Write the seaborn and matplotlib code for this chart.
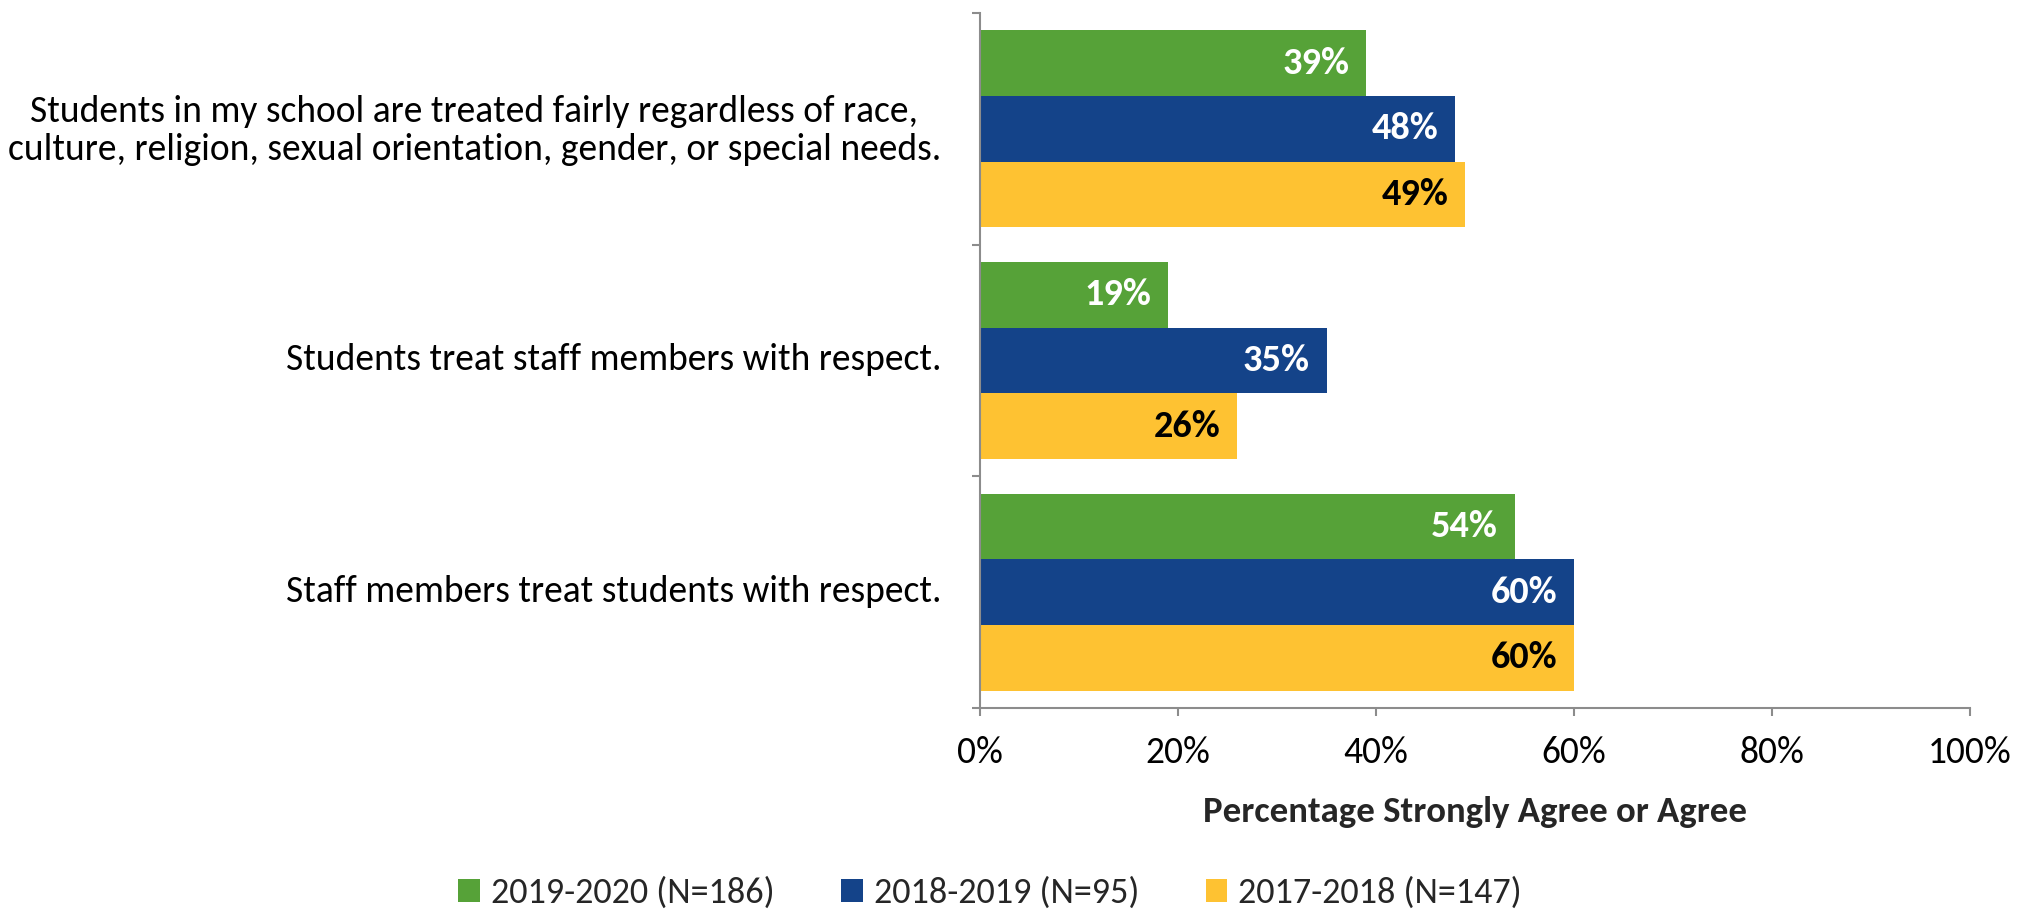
import matplotlib
matplotlib.use("Agg")
import matplotlib.pyplot as plt
import matplotlib.transforms as mtransforms
import seaborn as sns
import pandas as pd
import numpy as np
from matplotlib.ticker import FixedLocator, PercentFormatter

questions = [
    "Students in my school are treated fairly regardless of race,\nculture, religion, sexual orientation, gender, or special needs.",
    "Students treat staff members with respect.",
    "Staff members treat students with respect.",
]
series = ["2019-2020 (N=186)", "2018-2019 (N=95)", "2017-2018 (N=147)"]
vals_2019_2020 = [39, 19, 54]
vals_2018_2019 = [48, 35, 60]
vals_2017_2018 = [49, 26, 60]
colors = ["#56A238", "#144389", "#FEC232"]
label_colors = ["white", "white", "black"]
x_ticks = [0, 20, 40, 60, 80, 100]

sns.set_theme(style="white")
plt.rcParams["font.family"] = ["Carlito", "Liberation Sans Narrow", "Open Sans", "DejaVu Sans"]

rows = []
for s, vals in zip(series, [vals_2019_2020, vals_2018_2019, vals_2017_2018]):
    for q, v in zip(questions, vals):
        rows.append({"Question": q, "Year": s, "Value": v})
df = pd.DataFrame(rows)

fig = plt.figure(figsize=(20.3, 9.11), dpi=100)
ax = fig.add_axes([980/2030, 1-708/911, 990/2030, 695/911])

sns.barplot(data=df, y="Question", x="Value", hue="Year", order=questions,
            hue_order=series, palette=colors, orient="h", width=0.85,
            saturation=1, ax=ax, legend=True, linewidth=0)

fs = 27
for cont, lc in zip(ax.containers, label_colors):
    ax.bar_label(cont, labels=[f"{int(v)}%" for v in cont.datavalues],
                 padding=-12, color=lc, fontsize=27.5, fontweight="bold",
                 label_type="edge")
    for t in ax.texts[-len(cont.datavalues):]:
        t.set_ha("right")

ax.set_xlim(0, 100)
ax.set_ylim(2.5, -0.5)
ax.xaxis.set_major_locator(FixedLocator(x_ticks))
ax.xaxis.set_major_formatter(PercentFormatter(decimals=0))
ax.yaxis.set_minor_locator(FixedLocator([-0.5, 0.5, 1.5, 2.5]))

for sp in ["top", "right"]:
    ax.spines[sp].set_visible(False)
for sp in ["left", "bottom"]:
    ax.spines[sp].set_color("#8C8C8C")
    ax.spines[sp].set_linewidth(1.5)

ax.tick_params(axis="x", which="major", direction="out", length=6, width=1.5,
               color="#8C8C8C", pad=14, labelsize=fs, labelcolor="black", bottom=True)
ax.tick_params(axis="y", which="major", length=0, pad=28, labelsize=fs, labelcolor="black")
ax.tick_params(axis="y", which="minor", direction="out", length=6, width=1.5,
               color="#8C8C8C", left=True)
offset = mtransforms.ScaledTranslation(0, 3/72, fig.dpi_scale_trans)
for lab in ax.get_yticklabels():
    lab.set_multialignment("center")
    lab.set_transform(lab.get_transform() + offset)

ax.set_ylabel("")
ax.set_xlabel("Percentage Strongly Agree or Agree", fontsize=26.5, fontweight="bold")
ax.xaxis.set_label_coords(0.5, -0.127)
ax.grid(False)

handles, labels = ax.get_legend_handles_labels()
ax.get_legend().remove()
fig.legend(handles, labels, loc="center", bbox_to_anchor=(990/2030, 1-893/911),
           ncol=3, frameon=False, fontsize=26, handlelength=0.6, handleheight=0.6,
           handletextpad=0.3, columnspacing=1.85)

fig.savefig("out.png", dpi=100)
